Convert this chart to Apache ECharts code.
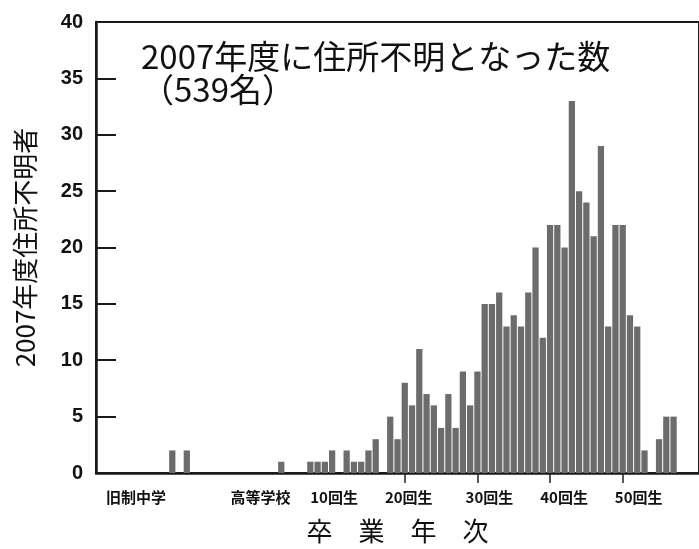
<!DOCTYPE html>
<html>
<head>
<meta charset="utf-8">
<script src="https://cdn.jsdelivr.net/npm/echarts@6/dist/echarts.min.js"></script>
<style>
html,body{margin:0;padding:0;background:#fff;}
#chart{width:699px;height:549px;}
</style>
</head>
<body>
<div id="chart"></div>
<script>
// 旧制中学 slots (22 slots before 高等学校)
const oldSchoolValues = [0,0,0,0,0,0,0,0,0,0, 2,0,2, 0,0,0,0,0,0,0,0,0];
// 高等学校 slot 0 and 1回生..60回生
const highSchoolValues = [
  0,                                  // 高等学校
  0,0,1,0,0,0,1,1,1,2,                // 1-10
  0,2,1,1,2,3,0,5,3,8,                // 11-20
  6,11,7,6,4,7,4,9,6,9,               // 21-30
  15,15,16,13,14,13,16,20,12,22,      // 31-40
  22,20,33,25,24,21,29,13,22,22,      // 41-50
  14,13,2,0,3,5,5,0,0,0               // 51-60
];
const tickLabels = {'旧制17':'旧制中学','高等学校':'高等学校','10回生':'10回生','20回生':'20回生','30回生':'30回生','40回生':'40回生','50回生':'50回生'};
const tickMarks = ['20回生','30回生','40回生','50回生'];
const yTicks = [0,5,10,15,20,25,30,35,40];

const categories = [];
for (let i = 0; i < oldSchoolValues.length; i++) categories.push('旧制' + (oldSchoolValues.length - i));
categories.push('高等学校');
for (let k = 1; k < highSchoolValues.length; k++) categories.push(k + '回生');
const values = oldSchoolValues.concat(highSchoolValues);

const labelShift = {'旧制中学':0,'高等学校':2,'10回生':4,'20回生':8,'30回生':24,'40回生':28,'50回生':32};

const chart = echarts.init(document.getElementById('chart'), null, {renderer:'canvas'});
const rich = {};
Object.keys(labelShift).forEach((k, i) => {
  rich['l' + i] = {padding:[0,0,0,labelShift[k]], fontSize:15, fontWeight:'bold', color:'#111', fontFamily:'Noto Sans CJK JP'};
});
const richKeys = Object.keys(labelShift);

chart.setOption({
  backgroundColor:'#ffffff',
  animation:false,
  title:{
    text:'2007年度に住所不明となった数\n（539名）',
    left:136, top:35,
    textStyle:{fontSize:33, lineHeight:33, fontWeight:'normal', color:'#111', fontFamily:'Noto Sans CJK JP'}
  },
  grid:{left:96, top:22, bottom:73, right:-12, show:true, borderColor:'#1a1a1a', borderWidth:2, backgroundColor:'transparent'},
  xAxis:{
    type:'category',
    data:categories,
    boundaryGap:true,
    name:'卒　業　年　次',
    nameLocation:'middle',
    nameGap:45,
    nameTextStyle:{fontSize:26, color:'#111', fontFamily:'Noto Sans CJK JP'},
    axisLine:{show:true, lineStyle:{color:'#1a1a1a', width:2.5}},
    axisTick:{show:true, alignWithLabel:true, length:10, lineStyle:{color:'#222', width:1.5},
      interval:(i, v) => tickMarks.indexOf(v) >= 0},
    axisLabel:{
      interval:(i, v) => tickLabels[v] !== undefined,
      margin:17,
      formatter:(v) => { const t = tickLabels[v]; if (!t) return ''; return '{l' + richKeys.indexOf(t) + '|' + t + '}'; },
      rich:rich
    },
    splitLine:{show:false}
  },
  yAxis:{
    type:'value',
    min:0, max:40, interval:5,
    name:'2007年度住所不明者',
    nameLocation:'middle',
    nameRotate:90,
    nameGap:58,
    nameTextStyle:{fontSize:26, color:'#111', fontFamily:'Noto Sans CJK JP'},
    axisLine:{show:true, lineStyle:{color:'#1a1a1a', width:2.5}},
    axisTick:{show:true, inside:true, length:20, lineStyle:{color:'#1a1a1a', width:2}},
    axisLabel:{margin:13, fontSize:20, fontWeight:'bold', color:'#111', fontFamily:'Liberation Sans',
      formatter:(v) => yTicks.indexOf(v) >= 0 ? String(v) : ''},
    splitLine:{show:false}
  },
  series:[{
    type:'bar',
    data:values,
    barCategoryGap:'14%',
    itemStyle:{color:'#6c6c6c'},
    emphasis:{disabled:true}
  }]
});
</script>
</body>
</html>
